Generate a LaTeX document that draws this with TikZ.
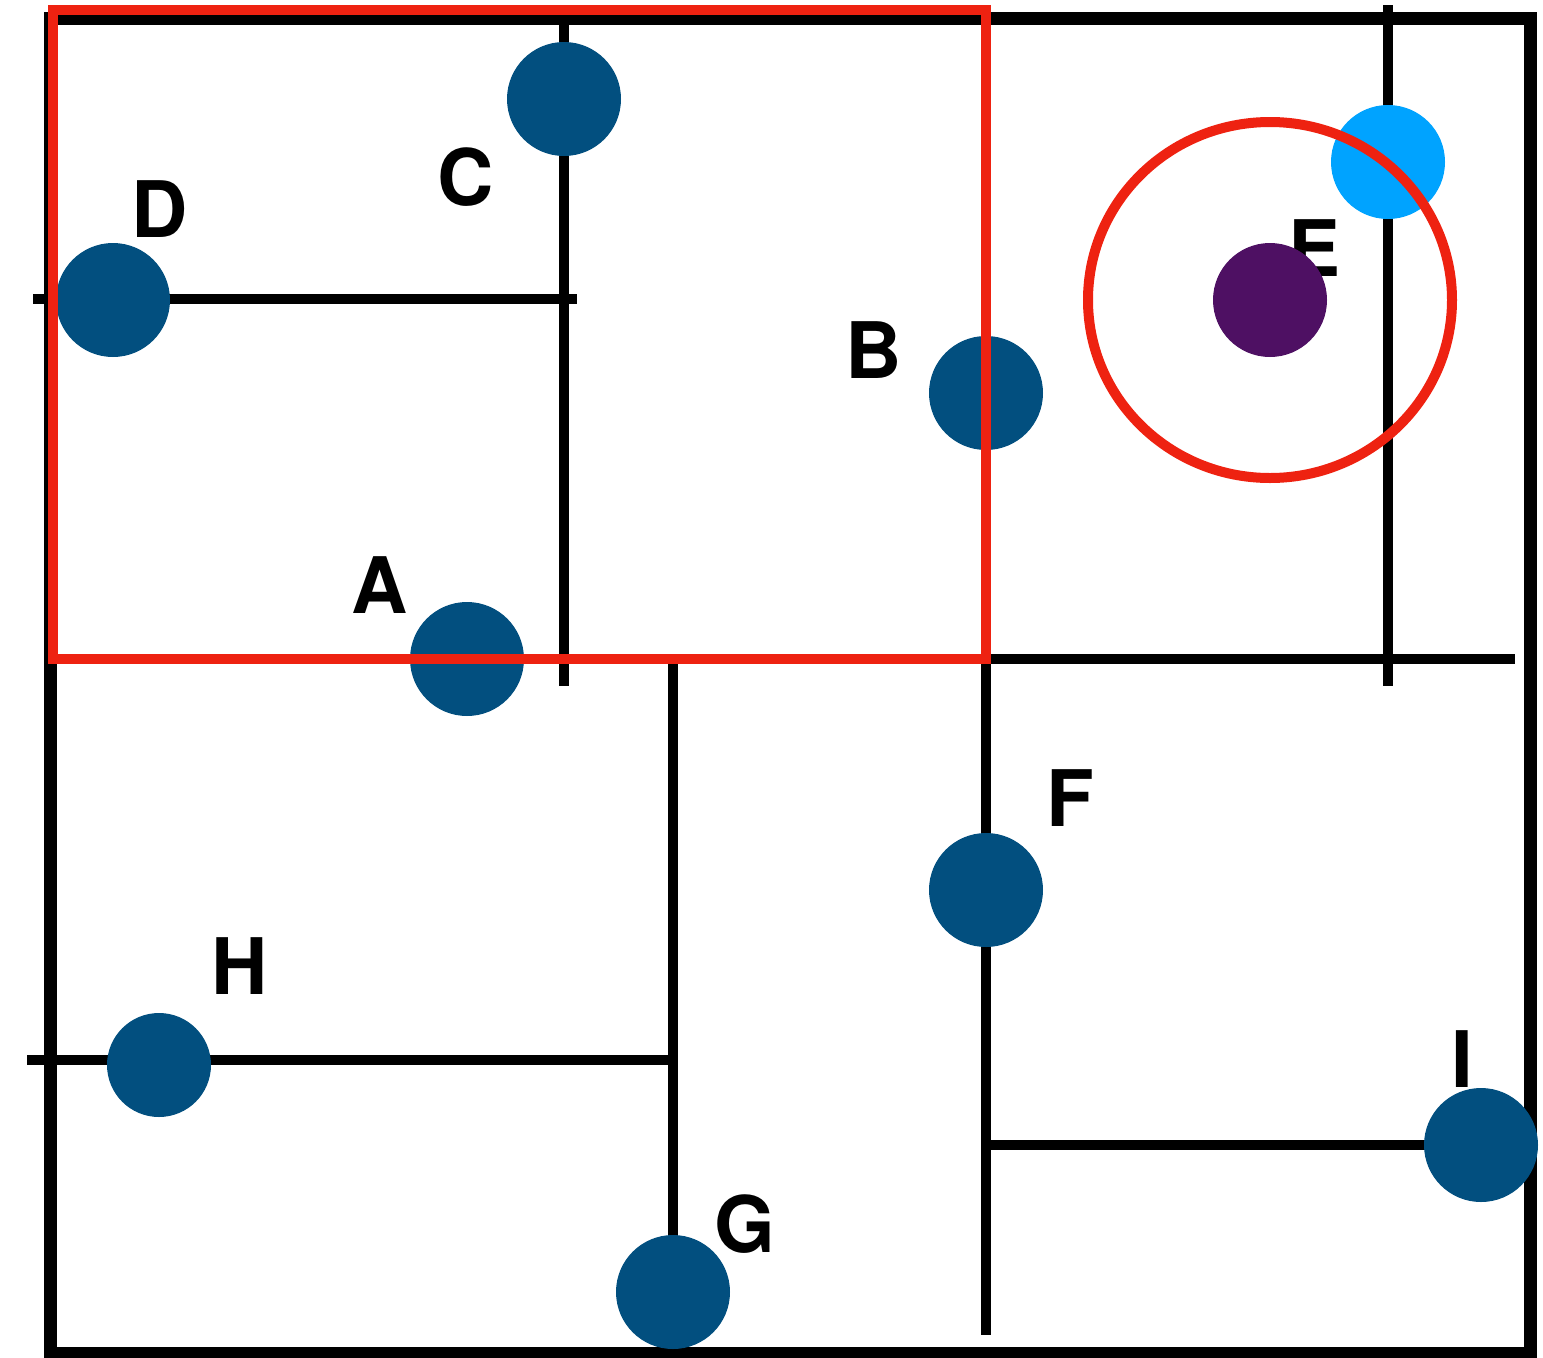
\documentclass[tikz,border=0pt]{standalone}
\usepackage{fontspec}
\setmainfont{TeX Gyre Heros}
\definecolor{ptblue}{RGB}{2,79,127}
\definecolor{ptpurple}{RGB}{78,16,99}
\definecolor{ptcyan}{RGB}{0,163,255}
\definecolor{ptred}{RGB}{238,34,17}
\begin{document}
\begin{tikzpicture}[x=1pt,y=-1pt,
  frame/.style={draw=black,line width=13pt},
  split/.style={draw=black,line width=10pt},
  pt/.style={circle,fill=ptblue,minimum size=114pt,inner sep=0pt},
  lbl/.style={inner sep=0pt,font=\fontsize{78}{80}\selectfont\bfseries},
  hl/.style={draw=ptred,line width=10pt}]
\useasboundingbox (0,0) rectangle (1543,1358);
% outer frame
\draw[frame] (50,18) rectangle (1530,1353);
% split lines
\coordinate (c1) at (564,5);   \coordinate (c2) at (564,686);
\coordinate (d1) at (33,299);  \coordinate (d2) at (577,299);
\coordinate (b1) at (986,659); \coordinate (b2) at (986,1335);
\coordinate (a1) at (57,659);  \coordinate (a2) at (1515,659);
\coordinate (e1) at (1388,5);  \coordinate (e2) at (1388,686);
\coordinate (g1) at (673,655); \coordinate (g2) at (673,1250);
\coordinate (h1) at (27,1060); \coordinate (h2) at (668,1060);
\coordinate (i1) at (986,1145);\coordinate (i2) at (1440,1145);
\draw[split] (c1) -- (c2);
\draw[split] (d1) -- (d2);
\draw[split] (b1) -- (b2);
\draw[split] (a1) -- (a2);
\draw[split] (e1) -- (e2);
\draw[split] (g1) -- (g2);
\draw[split] (h1) -- (h2);
\draw[split] (i1) -- (i2);
% labels
\node[lbl] (lD) at (160,209) {D};
\node[lbl] (lC) at (466,177) {C};
\node[lbl] (lB) at (874,350) {B};
\node[lbl] (lA) at (380,585) {A};
\node[lbl] (lE) at (1315,248) {E};
\node[lbl] (lF) at (1070,798) {F};
\node[lbl] (lH) at (240,966) {H};
\node[lbl] (lG) at (745,1224) {G};
\node[lbl] (lI) at (1462,1059) {I};
% points
\node[pt] (C) at (564,99) {};
\node[pt] (D) at (113,300) {};
\node[pt] (B) at (986,393) {};
\node[pt] (A) at (467,659) {};
\node[pt,fill=ptpurple] (E) at (1270,300) {};
\node[pt,fill=ptcyan] (N) at (1388,162) {};
\node[pt] (F) at (986,890) {};
\node[pt,minimum size=104pt] (H) at (159,1065) {};
\node[pt] (G) at (673,1292) {};
\node[pt] (I) at (1481,1145) {};
% highlight
\draw[hl] (53,10) rectangle (986,659);
\draw[hl] (E.center) ellipse [x radius=182pt, y radius=178pt];
\end{tikzpicture}
\end{document}
